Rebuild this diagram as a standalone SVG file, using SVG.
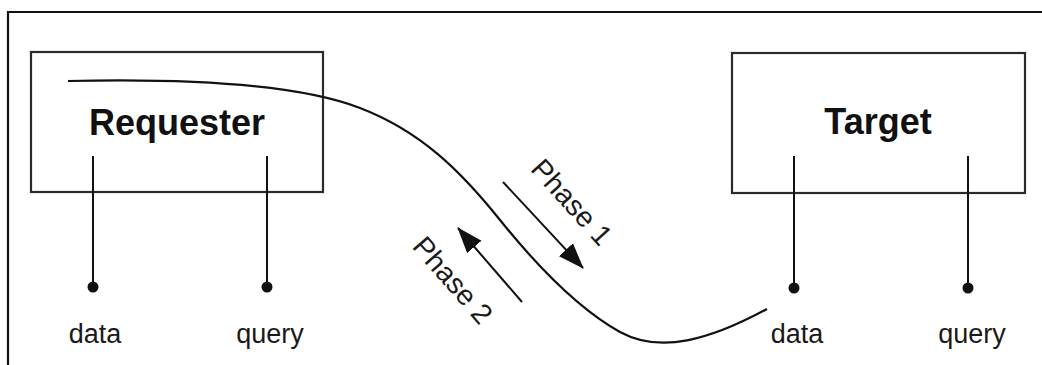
<svg xmlns="http://www.w3.org/2000/svg" width="1042" height="365" viewBox="0 0 1042 365">
  <style>
    .box { fill: #ffffff; stroke: #2b2b2b; stroke-width: 2.2; }
    .title { font-family: "Liberation Sans", Arial, sans-serif; font-weight: bold; font-size: 36px; fill: #111111; text-anchor: middle; }
    .label { font-family: "Liberation Sans", Arial, sans-serif; font-size: 27px; fill: #1a1a1a; text-anchor: middle; }
    .phase { font-family: "Liberation Sans", Arial, sans-serif; font-size: 28.5px; fill: #1a1a1a; text-anchor: middle; }
    .pin { stroke: #111111; stroke-width: 2; fill: none; }
    .dot { fill: #111111; }
    .wire { stroke: #111111; stroke-width: 2.2; fill: none; }
    .arrow { stroke: #111111; stroke-width: 2; fill: none; marker-end: url(#head); }
  </style>
  <defs>
    <marker id="head" viewBox="0 0 26 20" refX="25" refY="10" markerWidth="26" markerHeight="20" markerUnits="userSpaceOnUse" orient="auto">
      <path d="M0,0.5 L26,10 L0,19.5 Z" fill="#111111"/>
    </marker>
  </defs>

  <rect width="1042" height="365" fill="#ffffff"/>
  <!-- frame -->
  <path d="M8,365 V12 H1042" fill="none" stroke="#111111" stroke-width="2.2"/>

  <g id="requester">
    <rect class="box" x="31" y="52" width="292" height="140"/>
    <text class="title" x="177" y="135">Requester</text>
  </g>
  <g id="target">
    <rect class="box" x="732" y="53" width="293" height="140"/>
    <text class="title" x="878" y="134">Target</text>
  </g>

  <g id="requester-data">
    <line class="pin" x1="93" y1="156" x2="93" y2="287"/>
    <circle class="dot" cx="93" cy="287" r="5.5"/>
    <text class="label" x="95" y="343">data</text>
  </g>
  <g id="requester-query">
    <line class="pin" x1="267" y1="156" x2="267" y2="287"/>
    <circle class="dot" cx="267" cy="287" r="5.5"/>
    <text class="label" x="270" y="343">query</text>
  </g>
  <g id="target-data">
    <line class="pin" x1="794" y1="156" x2="794" y2="288"/>
    <circle class="dot" cx="794" cy="288" r="5.5"/>
    <text class="label" x="797" y="343">data</text>
  </g>
  <g id="target-query">
    <line class="pin" x1="968" y1="156" x2="968" y2="288"/>
    <circle class="dot" cx="968" cy="288" r="5.5"/>
    <text class="label" x="972" y="343">query</text>
  </g>

  <g id="connectors">
    <path class="wire" d="M68,81 C200,78 300,85 360,108 C420,131 460,170 500,220 C533,261 575,307 620,332 C660,354 710,340 767,309"/>
    <line class="arrow" x1="503" y1="182" x2="583" y2="268"/>
    <line class="arrow" x1="522" y1="302" x2="458" y2="228"/>
    <text class="phase" transform="translate(572,202) rotate(48)" y="10">Phase 1</text>
    <text class="phase" transform="translate(453,280) rotate(49)" y="10">Phase 2</text>
  </g>
</svg>
